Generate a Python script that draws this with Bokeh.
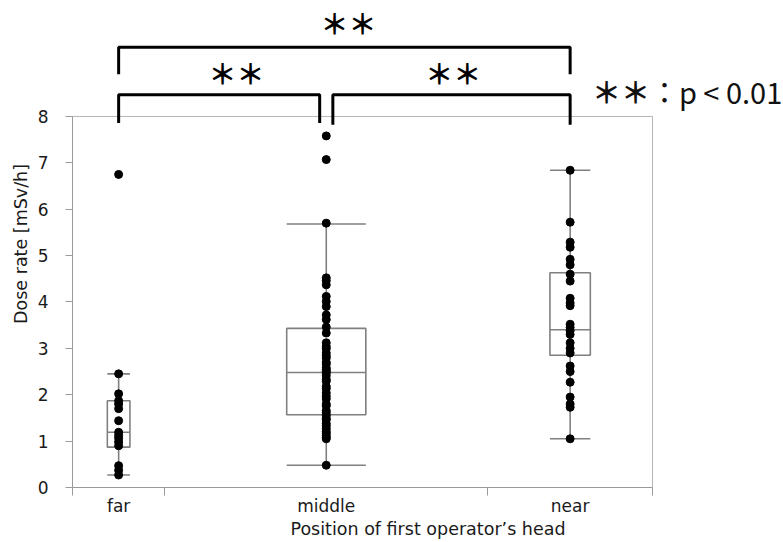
from bokeh.plotting import figure
from bokeh.models import Range1d, FixedTicker, ColumnDataSource
from bokeh.core.properties import value
from bokeh.embed import file_html
from bokeh.resources import INLINE

# ---------------- data ----------------
categories = ["far", "middle", "near"]
cat_width = [14, 49, 25]          # relative category widths (JMP style, by group size)

far_vals = [6.75, 2.45, 2.02, 1.87, 1.80, 1.70, 1.44, 1.19, 1.12, 1.06, 0.98, 0.90, 0.47, 0.37, 0.27]
middle_vals = [7.58, 7.07, 5.70, 4.52, 4.46, 4.37, 4.12, 4.01, 3.90, 3.72, 3.62, 3.46, 3.33,
               3.12, 3.04, 2.99, 2.90, 2.84, 2.79, 2.70, 2.66, 2.58, 2.54, 2.50, 2.47, 2.41,
               2.33, 2.29, 2.18, 2.13, 2.04, 1.97, 1.91, 1.80, 1.76, 1.66, 1.61, 1.55, 1.49,
               1.46, 1.38, 1.33, 1.27, 1.21, 1.17, 1.12, 1.08, 1.05, 0.48]
near_vals = [6.84, 5.72, 5.29, 5.18, 4.92, 4.80, 4.60, 4.45, 4.08, 3.98, 3.92, 3.52, 3.45,
             3.38, 3.30, 3.12, 3.00, 2.90, 2.62, 2.50, 2.27, 1.95, 1.80, 1.73, 1.05]

whisker_lo = [0.27, 0.48, 1.05]
box_q1 = [0.87, 1.57, 2.85]
box_median = [1.19, 2.48, 3.40]
box_q3 = [1.87, 3.43, 4.63]
whisker_hi = [2.45, 5.68, 6.84]

y_ticks = [0, 1, 2, 3, 4, 5, 6, 7, 8]

comparisons = [("far", "middle"), ("middle", "near"), ("far", "near")]
comparison_labels = ["＊＊", "＊＊", "＊＊"]
legend_stars = "＊＊"
legend_text = "：p < 0.01"

# ---------------- layout helpers ----------------
edges = [0]
for w in cat_width:
    edges.append(edges[-1] + w)
centers = [(edges[i] + edges[i + 1]) / 2 for i in range(len(categories))]
cpos = dict(zip(categories, centers))
box_w = [0.245 * w for w in cat_width]
total = edges[-1]

p = figure(width=783, height=542, output_backend="svg", toolbar_location=None,
           x_range=Range1d(0, 107.87), y_range=Range1d(0, 10.50),
           min_border_left=72, min_border_right=0, min_border_top=0, min_border_bottom=55)
p.grid.visible = False
p.outline_line_color = None
p.background_fill_color = "white"
p.border_fill_color = "white"

AX = "#9a9a9a"
TXT = "#1a1a1a"
FONT = "DejaVu Sans"
CJK = "Noto Sans CJK JP"

# x axis
p.xaxis.bounds = (0, total)
p.xaxis.ticker = FixedTicker(ticks=centers, minor_ticks=edges)
p.xaxis.major_label_overrides = {c: lab for c, lab in zip(centers, categories)}
p.xaxis.major_tick_out = 0
p.xaxis.major_tick_in = 0
p.xaxis.minor_tick_out = 8
p.xaxis.minor_tick_in = 0
p.xaxis.axis_line_color = AX
p.xaxis.minor_tick_line_color = AX
p.xaxis.major_label_standoff = 0
p.xaxis.axis_label = "Position of first operator’s head"
p.xaxis.axis_label_standoff = 0

# y axis
p.yaxis.bounds = (0, 8)
p.yaxis.ticker = FixedTicker(ticks=y_ticks, minor_ticks=[])
p.yaxis.major_tick_out = 7
p.yaxis.major_tick_in = 0
p.yaxis.axis_line_color = AX
p.yaxis.major_tick_line_color = AX
p.yaxis.major_label_standoff = 17
p.yaxis.axis_label = "Dose rate [mSv/h]"
p.yaxis.axis_label_standoff = 4

for ax in (p.xaxis, p.yaxis):
    ax.major_label_text_font = FONT
    ax.major_label_text_font_size = "17px"
    ax.major_label_text_color = TXT
    ax.axis_label_text_font = FONT
    ax.axis_label_text_font_size = "17.5px"
    ax.axis_label_text_font_style = "normal"
    ax.axis_label_text_color = TXT

# frame box (top & right sides)
p.quad(left=[0], right=[total], bottom=[0], top=[8], fill_color=None, line_color="#b4b4b4", line_width=1)

# boxes
BOXC = "#808080"
bsrc = ColumnDataSource(dict(
    c=centers,
    l=[c - w / 2 for c, w in zip(centers, box_w)],
    r=[c + w / 2 for c, w in zip(centers, box_w)],
    q1=box_q1, q3=box_q3, med=box_median, lo=whisker_lo, hi=whisker_hi))
p.segment(x0="c", x1="c", y0="lo", y1="q1", source=bsrc, line_color=BOXC, line_width=1.6)
p.segment(x0="c", x1="c", y0="q3", y1="hi", source=bsrc, line_color=BOXC, line_width=1.6)
p.segment(x0="l", x1="r", y0="lo", y1="lo", source=bsrc, line_color=BOXC, line_width=1.6)
p.segment(x0="l", x1="r", y0="hi", y1="hi", source=bsrc, line_color=BOXC, line_width=1.6)
p.quad(left="l", right="r", bottom="q1", top="q3", source=bsrc, fill_color=None,
       line_color=BOXC, line_width=1.6)
p.segment(x0="l", x1="r", y0="med", y1="med", source=bsrc, line_color=BOXC, line_width=1.6)

# points
xs, ys = [], []
for cat, vals in zip(categories, [far_vals, middle_vals, near_vals]):
    xs += [cpos[cat]] * len(vals)
    ys += vals
p.scatter(xs, ys, size=8, color="black")

# significance brackets
bar_y = [8.47, 8.47, 9.49]
leg_y = [7.86, 7.82, 8.91]
end_off = [(0, -1.0), (1.0, 0), (0, 0)]
bx, by = [], []
for (a, b), top, bot, (oa, ob) in zip(comparisons, bar_y, leg_y, end_off):
    x0 = cpos[a] + oa
    x1 = cpos[b] + ob
    bx.append([x0, x0, x1, x1])
    by.append([bot, top, top, bot])
p.multi_line(bx, by, line_color="black", line_width=3)

lab_x = [(cpos[a] + cpos[b]) / 2 for a, b in comparisons]
lab_xoff = [14, 5, 4]
lab_y = [8.93, 8.93, 10.02]
p.text(x=lab_x, y=lab_y, text=comparison_labels, x_offset=lab_xoff,
       text_font=value(CJK), text_font_size="28px", text_font_style="bold",
       text_align="center", text_baseline="middle", text_color="black")

# legend for the significance marks
p.text(x=[78.8], y=[8.55], text=[legend_stars],
       text_font=value(CJK), text_font_size="29px", text_font_style="bold",
       text_align="left", text_baseline="middle", text_color="#111111")
p.text(x=[78.8], y=[8.55], text=[legend_text], x_offset=58,
       text_font=value(CJK), text_font_size="29px",
       text_align="left", text_baseline="middle", text_color="#111111")

open("out.html", "w").write(file_html(p, INLINE))
